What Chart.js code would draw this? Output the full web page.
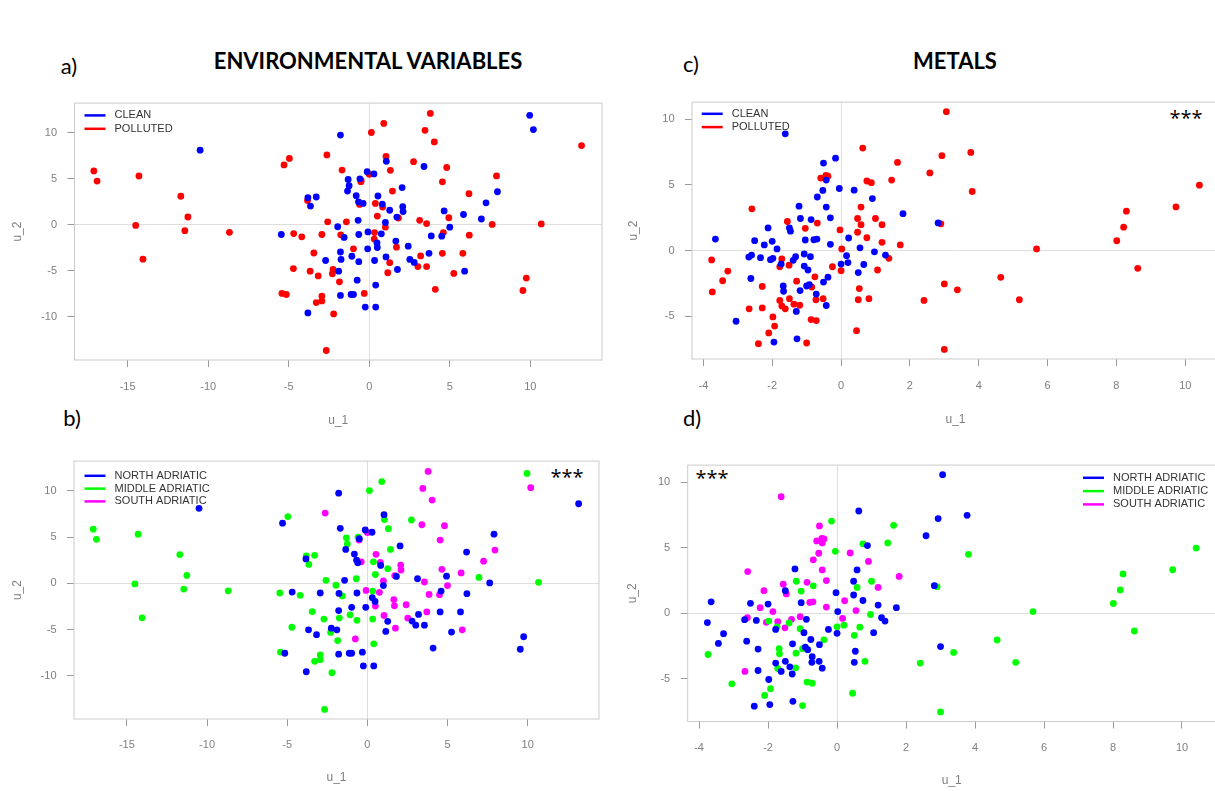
<!DOCTYPE html>
<html lang="en">
<head>
<meta charset="UTF-8">
<title>CCA scores: environmental variables and metals</title>
<script src="https://cdn.jsdelivr.net/npm/chart.js@4"></script>
<style>
    body {
        margin: 0;
        width: 1215px;
        height: 791px;
        overflow: hidden;
        background: #fff;
        position: relative;
        font-family: Lato, sans-serif;
    }
    canvas { position: absolute; }
    .lbl {
        position: absolute;
        transform: translate(-50%, -50%);
        white-space: nowrap;
        color: #000;
    }
    .letter { font-size: 22px; }
    .title { font-size: 22px; font-weight: bold; }
    .stars { font-family: "Open Sans", sans-serif; font-size: 20px; }
</style>
</head>
<body>

<div class="lbl letter" style="left:69px; top:65px;">a)</div>
<div class="lbl title" style="left:368px; top:60px;">ENVIRONMENTAL VARIABLES</div>
<div class="lbl letter" style="left:691px; top:63px;">c)</div>
<div class="lbl title" style="left:955px; top:60px;">METALS</div>
<div class="lbl letter" style="left:72px; top:417px;">b)</div>
<div class="lbl letter" style="left:692px; top:417px;">d)</div>

<div class="lbl stars" style="left:567px; top:476px;">***</div>
<div class="lbl stars" style="left:1186px; top:117px;">***</div>
<div class="lbl stars" style="left:712px; top:477px;">***</div>

<canvas id="envStatusChart" width="612" height="349" style="left:0; top:86px;"></canvas>
<canvas id="metStatusChart" width="613" height="350" style="left:612px; top:85px;"></canvas>
<canvas id="envRegionChart" width="612" height="347" style="left:0; top:444px;"></canvas>
<canvas id="metRegionChart" width="613" height="343" style="left:612px; top:448px;"></canvas>

<script>
// ---- data: canonical scores ----
// environmental variables (panels a and b share the same points)
const envU1 = [
    3.79, 0.9, 3.46, 0.13, -1.79, 4.04, -2.63, -4.96, -5.29, 1.04,
    1.06, 2.75, -1.69, 1.31, 3.4, 4.81, -0.13, 0.29, 0, 7.9,
    -1.31, -0.58, -0.5, -0.52, -1.25, 2.04, -1.35, 1.44, 4.54, 6.19,
    7.96, -0.81, 0.54, -3.81, -3.29, -3.83, -3.65, -0.67, -0.6, -0.38,
    0.38, 0.81, 0.83, 2.08, 2.1, 1.27, 1.71, 1.81, 0.5, 1.0,
    1.0, 3.13, 3.56, 4.94, 4.65, 5.85, 6.96, 7.63, 5.0, 4.6,
    4.5, 3.85, 6.21, -2.58, -1.96, -1.42, -0.69, -5.46, -4.69, -4.19,
    -2.94, -1.77, -1.56, -0.65, -0.08, 0.33, 0.75, 0.31, 0.48, 0.5,
    1.65, 1.69, 2.42, -0.1, -0.98, -1.79, -3.44, -1.08, 0.33, 1.04,
    1.27, -0.65, -1.75, -2.71, 2.52, 3.19, 2.79, 3.02, 3.56, 3.71,
    4.54, 5.81, 5.92, 5.25, 4.1, 1.75, 1.15, -4.71, -3.67, -3.17,
    -2.25, -1.9, -2.29, -1.85, -0.75, 0.4, -5.42, -5.15, -2.94, -3.29,
    -2.94, -1.79, -1.13, -0.98, -0.31, -3.81, -2.21, -0.25, 0.4, -2.67,
    7.25, -17.1, -16.9, -14.3, -14.5, -14.05, -11.7, -11.26, -11.45, -8.68,
    -10.5, 9.96, 10.19, 13.18, 10.68, 9.75, 9.54
];
const envU2 = [
    12.09, 11.0, 10.26, 10.02, 9.74, 9.0, 7.59, 7.21, 6.5, 7.42,
    6.89, 6.85, 5.94, 5.91, 6.33, 6.22, 5.76, 5.52, 5.48, 5.31,
    4.92, 4.99, 4.82, 4.68, 4.25, 4.04, 3.66, 3.66, 4.67, 3.37,
    3.59, 3.16, 3.13, 2.95, 3.02, 2.64, 2.04, 2.5, 2.21, 2.32,
    2.32, 2.25, 1.93, 1.97, 1.44, 1.58, 0.84, 0.74, 0.95, 0.25,
    -0.25, 0.49, 0.14, 0.77, 1.51, 1.12, 0.63, 0.04, -0.25, -0.84,
    -1.23, -1.2, -1.12, 0.32, -0.21, 0.32, 0.49, -1.05, -0.95, -1.3,
    -1.05, -1.09, -1.37, -1.05, -0.77, -0.84, -0.98, -1.55, -1.97, -2.46,
    -1.76, -2.43, -2.32, -2.6, -2.6, -2.95, -3.06, -3.41, -3.87, -3.48,
    -4.11, -4.0, -3.76, -3.87, -3.76, -3.37, -4.08, -4.53, -4.53, -3.09,
    -3.09, -3.09, -5.03, -5.27, -7.0, -4.85, -5.2, -4.75, -5.03, -5.55,
    -4.85, -5.03, -5.31, -6.19, -6.01, -6.54, -7.45, -7.56, -7.73, -8.44,
    -8.26, -7.66, -7.56, -7.56, -7.45, -9.56, -9.67, -8.93, -8.93, -13.64,
    2.39, 5.85, 4.75, 5.3, -0.07, -3.73, 3.1, 0.85, -0.63, -0.81,
    8.1, 11.88, 10.34, 8.6, 0.1, -5.78, -7.13
];
// C = clean, P = polluted
const envStatus = ('PPPPCPPPPP' + 'CPPPCPCCPP' + 'CCPPCCCPPP' + 'CCCCCPCCPC' + 'PCPCCCCPPC' +
    'PPPPCCCPCP' + 'CCPPCPCCPP' + 'PPCCCPCPCC' + 'CPCCPCPCCC' + 'PCCCCPCPPC' +
    'PPCPPCPPPP' + 'PCPPCCPPPP' + 'PCCCPCPCCP' + 'CPPPPPPPPP' + 'CCCPPPP').split('');
// N = north, M = middle, S = south Adriatic
const envRegion = ('SMSMNSSMNN' + 'MMNMSSNNSN' + 'MMNSMNNMSN' + 'SNSMMNMNNS' + 'MSNSSMSNMS' +
    'NNSNSSMNSN' + 'SSNMMNMMNM' + 'NNMNSMSNNS' + 'SSSNNNMMMS' + 'NMMMSNNNNS' +
    'NNSNNSNMNN' + 'NNMMSMMNMM' + 'MNNNNNMNNM' + 'SMMMMMMMMM' + 'NMSNMNN').split('');

// metals (panels c and d share the same points)
const metU1 = [
    -1.62, 0.63, -0.16, 1.64, -0.51, 2.58, -0.59, -0.44, -0.38, -0.43,
    -0.53, 0.75, 0.88, 1.47, -0.05, 0.38, -0.69, 0.91, -1.22, -0.43,
    0.58, -2.59, 1.8, -1.56, -1.18, -0.87, -0.69, -0.31, 0.48, 1.0,
    1.19, 0.58, -1.5, -1.47, -1.04, -2.12, -0.03, 0.48, -2.51, -2.0,
    -2.23, -1.86, -1.04, -0.79, -0.7, -0.31, 0.22, 0.75, 1.19, 1.72,
    -3.65, -3.76, -3.29, -3.44, -3.74, -2.68, -2.6, -2.34, -2.05, -1.98,
    -1.72, -1.74, -1.78, -1.51, -1.39, -1.32, -1.07, -0.89, -1.07, -0.96,
    -0.25, 0, 0, 0.16, 0.2, 0.66, 0.55, 0.97, 1.29, 1.39,
    1.06, 0.5, 0.53, 0.5, 0.81, 0.45, 2.41, -0.38, -0.76, -0.51,
    -1.29, -1.0, -0.85, -0.92, -1.19, -1.68, -1.67, -2.29, -2.62, -0.72,
    -0.73, -0.52, -0.43, -1.78, -1.5, -1.72, -1.62, -1.37, -1.2, -1.3,
    -2.29, -2.67, -3.05, -1.98, -1.93, -2.1, -2.4, -1.95, -1.28, -1.0,
    -0.87, -0.72, 3.06, 3.77, 2.93, 3.81, 2.82, 2.9, 10.41, 9.73,
    8.29, 8.21, 8.01, 8.62, 5.68, 4.64, 5.18, 3.38, 3.0, 3.0, 0.02
];
const metU2 = [
    8.9, 7.81, 7.04, 6.72, 6.67, 5.92, 5.52, 5.72, 5.67, 5.37,
    4.58, 5.3, 5.17, 5.37, 4.73, 4.6, 4.08, 3.96, 3.38, 3.31,
    3.31, 3.18, 2.81, 2.21, 2.44, 2.36, 2.09, 2.49, 2.44, 2.44,
    1.97, 1.97, 1.72, 1.47, 1.69, 1.72, 1.57, 1.39, 0.75, 0.7,
    0.42, 0.12, 0.8, 0.82, 0.87, 0.47, 0.95, 0.97, 0.62, 0.42,
    0.87, -0.72, -1.57, -2.31, -3.16, -0.5, -0.35, -0.55, -0.7, -0.6,
    -0.65, -1.04, -1.24, -1.12, -0.75, -0.47, -0.27, -0.47, -1.19, -1.49,
    -1.24, -1.04, -1.54, -0.4, -0.92, -1.07, 0.2, -0.1, -0.35, -0.6,
    -1.49, -1.69, -2.91, -3.76, -3.68, -6.12, -3.81, -2.04, -2.01, -2.41,
    -2.34, -2.71, -2.79, -2.6, -3.06, -2.71, -3.11, -2.74, -2.14, -3.33,
    -3.76, -3.68, -4.2, -3.81, -3.68, -4.23, -4.45, -4.1, -4.18, -4.65,
    -4.38, -4.45, -5.4, -5.07, -5.77, -6.29, -7.11, -6.99, -6.74, -7.06,
    -5.27, -5.35, 10.59, 7.48, 7.23, 4.5, 2.1, 2.03, 4.98, 3.32,
    3.0, 1.78, 0.74, -1.36, 0.12, -2.05, -3.76, -3.0, -2.55, -7.55, 0.12
];
const metStatus = ('CPCPCPPPPC' + 'CPPPCCCCCC' + 'PPCPCCPCPP' + 'PPCCPCPPCC' + 'CCCCCCCPPP' +
    'CPPPPCCCCC' + 'PCPPCCCCCC' + 'PCPCCCCCCP' + 'PCPPPPPCPC' + 'PCPCCCCPCC' +
    'PPCPPPPPPC' + 'PPCPPPPCCP' + 'PPPPPPCPPP' + 'PPPPPPPPPPP').split('');
const metRegion = ('SNMMSNSSSS' + 'SMNMMSSSNS' + 'NSSSMSMSNM' + 'SMNSMSNNNN' + 'SSNSSSSNNN' +
    'NNNNMNSNSM' + 'SMNSMSSNMN' + 'NMNSMMSMNN' + 'NMNNMMMMNN' + 'NMNNMMMNNN' +
    'NNNNNMNNMN' + 'NSMNMMNNNM' + 'MMNNNMNMMM' + 'MMMMMMMMNMN').split('');

// tick labels
const envXTicks = [-15, -10, -5, 0, 5, 10];
const envYTicks = [-10, -5, 0, 5, 10];
const metXTicks = [-4, -2, 0, 2, 4, 6, 8, 10];
const metYTicks = [-5, 0, 5, 10];

const statusGroups = [
    { key: 'C', label: 'CLEAN', color: '#0000ff' },
    { key: 'P', label: 'POLLUTED', color: '#ff0000' }
];
const regionGroups = [
    { key: 'N', label: 'NORTH ADRIATIC', color: '#0000ff' },
    { key: 'M', label: 'MIDDLE ADRIATIC', color: '#00ff00' },
    { key: 'S', label: 'SOUTH ADRIATIC', color: '#ff00ff' }
];

// ---- helpers ----
function pick(xs, ys, tags, key) {
    const out = [];
    xs.forEach((x, i) => {
        if (tags[i] === key) out.push({ x: x, y: ys[i] });
    });
    return out;
}

function buildSets(xs, ys, tags, groups) {
    return groups.map(g => ({
        label: g.label,
        data: pick(xs, ys, tags, g.key),
        backgroundColor: g.color,
        borderWidth: 0,
        pointRadius: 3.4,
        pointHoverRadius: 3.4
    }));
}

// grey frame round the plotting region
const frame = {
    id: 'frame',
    beforeDatasetsDraw(chart) {
        const { ctx, chartArea: a } = chart;
        ctx.save();
        ctx.strokeStyle = '#cbcbcb';
        ctx.lineWidth = 1;
        ctx.strokeRect(a.left, a.top, a.width, a.height);
        ctx.restore();
    }
};

// line-style key drawn inside the plot, like R's legend()
const lineKey = {
    id: 'lineKey',
    afterDatasetsDraw(chart, args, opts) {
        const { ctx, chartArea: a } = chart;
        const x0 = opts.right ? a.right + opts.dx : a.left + opts.dx;
        ctx.save();
        ctx.font = '11px "Liberation Sans", Arial, sans-serif';
        ctx.textBaseline = 'middle';
        chart.data.datasets.forEach((ds, i) => {
            const y = a.top + opts.dy + i * opts.step;
            ctx.strokeStyle = ds.backgroundColor;
            ctx.lineWidth = 2.5;
            ctx.beginPath();
            ctx.moveTo(x0, y);
            ctx.lineTo(x0 + 21, y);
            ctx.stroke();
            ctx.fillStyle = '#333';
            ctx.fillText(ds.label, x0 + 30, y);
        });
        ctx.restore();
    }
};

function axis(min, max, ticks, title, titlePad, labelPad, size) {
    return {
        type: 'linear',
        min: min,
        max: max,
        afterBuildTicks: s => { s.ticks = ticks.map(v => ({ value: v })); },
        afterFit: s => { if (s.isHorizontal()) s.height = size; else s.width = size; },
        border: { display: false },
        grid: {
            color: c => (c.tick && c.tick.value === 0) ? '#dedede' : 'rgba(0,0,0,0)',
            tickColor: '#9a9a9a',
            tickLength: 7,
            lineWidth: 1
        },
        ticks: {
            padding: labelPad,
            color: '#7f7f7f',
            font: { family: '"Liberation Sans", Arial, sans-serif', size: 11 }
        },
        title: {
            display: true,
            text: title,
            color: '#7f7f7f',
            font: { family: '"Liberation Sans", Arial, sans-serif', size: 12 },
            padding: titlePad
        }
    };
}

function makePanel(id, cv, box, sets, xr, yr, xTicks, yTicks, pads, key) {
    new Chart(document.getElementById(id), {
        type: 'scatter',
        data: { datasets: sets },
        options: {
            responsive: false,
            animation: false,
            layout: {
                padding: { top: box.t - cv.top, right: cv.left + cv.w - box.r, left: 0, bottom: 0 }
            },
            scales: {
                x: axis(xr[0], xr[1], xTicks, 'u_1', { top: 0, bottom: pads.xt }, pads.xl, cv.top + cv.h - box.b),
                y: axis(yr[0], yr[1], yTicks, 'u_2', { top: pads.yt, bottom: 0 }, 10.5, box.l - cv.left)
            },
            plugins: {
                legend: { display: false },
                tooltip: { enabled: false },
                lineKey: key
            }
        },
        plugins: [frame, lineKey]
    });
}

// ---- panels ----
makePanel('envStatusChart',
    { left: 0, top: 86, w: 612, h: 349 }, { l: 74.5, r: 602, t: 96, b: 360 },
    buildSets(envU1, envU2, envStatus, statusGroups),
    [-18.3, 14.45], [-14.67, 13.21], envXTicks, envYTicks,
    { xt: 6.8, xl: 13.1, yt: 10.8 }, { dx: 10, dy: 12.3, step: 13.4 });

makePanel('metStatusChart',
    { left: 612, top: 85, w: 613, h: 350 }, { l: 692, r: 1219, t: 95, b: 359 },
    buildSets(metU1, metU2, metStatus, statusGroups),
    [-4.33, 10.98], [-8.28, 11.32], metXTicks, metYTicks,
    { xt: 7.8, xl: 12.9, yt: 14.8 }, { dx: 9.7, dy: 11.7, step: 13.3 });

makePanel('envRegionChart',
    { left: 0, top: 444, w: 612, h: 347 }, { l: 74, r: 599, t: 454.5, b: 719 },
    buildSets(envU1, envU2, envRegion, regionGroups),
    [-18.3, 14.45], [-14.67, 13.21], envXTicks, envYTicks,
    { xt: 5.8, xl: 12.4, yt: 10.4 }, { dx: 10.5, dy: 14.7, step: 12.8 });

makePanel('metRegionChart',
    { left: 612, top: 448, w: 613, h: 343 }, { l: 687.7, r: 1215.8, t: 458, b: 721.5 },
    buildSets(metU1, metU2, metRegion, regionGroups),
    [-4.33, 10.98], [-8.28, 11.32], metXTicks, metYTicks,
    { xt: 2.8, xl: 12.9, yt: 13.1 }, { right: true, dx: -132.8, dy: 12.7, step: 13.3 });
</script>
</body>
</html>
